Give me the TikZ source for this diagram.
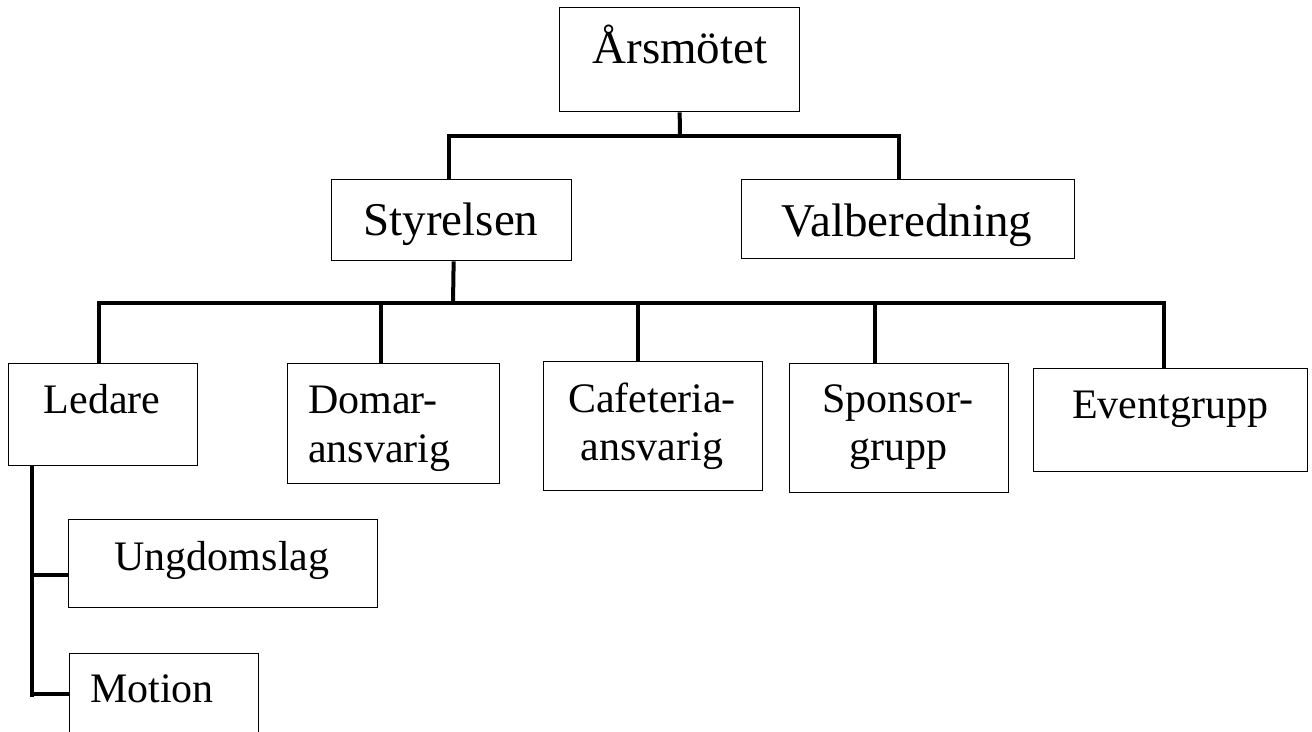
\documentclass[tikz,border=0pt]{standalone}
\usepackage{fontspec}
\setmainfont{Liberation Serif}
\begin{document}
\begin{tikzpicture}[x=1pt,y=-1pt,
  box/.style={draw, line width=1.3pt, inner sep=0pt, anchor=north west},
  conn/.style={line width=4pt},
  big/.style={font=\fontsize{47}{54}\selectfont, anchor=base, inner sep=0pt},
  small/.style={font=\fontsize{42}{48}\selectfont, anchor=base, inner sep=0pt, align=center},
  smallleft/.style={font=\fontsize{42}{48}\selectfont, anchor=base west, inner sep=0pt}]
\useasboundingbox (0,0) rectangle (1312,731);
% boxes
\node[box, minimum width=240pt, minimum height=104pt] (ars) at (559,7) {};
\node[box, minimum width=240pt, minimum height=81pt] (sty) at (331,179) {};
\node[box, minimum width=333pt, minimum height=79pt] (val) at (741,179) {};
\node[box, minimum width=189pt, minimum height=102pt] (led) at (8,363) {};
\node[box, minimum width=212pt, minimum height=120pt] (dom) at (287,363) {};
\node[box, minimum width=219pt, minimum height=129pt] (caf) at (543,361) {};
\node[box, minimum width=219pt, minimum height=129pt] (spo) at (789,363) {};
\node[box, minimum width=274pt, minimum height=103pt] (evt) at (1033,368) {};
\node[box, minimum width=309pt, minimum height=88pt] (ung) at (68,519) {};
\node[box, minimum width=189pt, minimum height=110pt] (mot) at (69,653) {};
% texts
\node[big] (tars) at (680,63) {Årsmötet};
\node[big] (tsty) at (451,235) {Styrelsen};
\node[big] (tval) at (907,236) {Valberedning};
\node[small] (tled) at (102,413) {Ledare};
\node[smallleft] (tdom1) at (308,413) {Domar-};
\node[smallleft] (tdom2) at (308,462) {ansvarig};
\node[small] (tcaf1) at (652,412) {Cafeteria-};
\node[small] (tcaf2) at (652,460) {ansvarig};
\node[small] (tspo1) at (898,412) {Sponsor-};
\node[small] (tspo2) at (898,460) {grupp};
\node[small] (tevt) at (1170,418) {Eventgrupp};
\node[small] (tung) at (222,570) {Ungdomslag};
\node[smallleft] (tmot) at (90,702) {Motion};
% connectors level 1
\coordinate (j1) at (680,136);
\draw[conn] (ars.south) -- (j1);
\draw[conn] ([xshift=-3pt]sty.north) |- (j1) -| ([xshift=-9.5pt]val.north);
% connectors level 2
\coordinate (j2) at (453,303);
\draw[conn] ([xshift=2pt]sty.south) -- (j2);
\draw[conn] ([xshift=-4.5pt]led.north) |- (j2) -| ([xshift=-7pt]evt.north);
\coordinate (d1) at ([xshift=-13pt]dom.north);
\coordinate (c1) at ([xshift=-15.5pt]caf.north);
\coordinate (s1) at ([xshift=-24.5pt]spo.north);
\draw[conn] (d1) -- (d1 |- j2);
\draw[conn] (c1) -- (c1 |- j2);
\draw[conn] (s1) -- (s1 |- j2);
% Ledare sub-branch
\coordinate (l1) at ([xshift=24pt]led.south west);
\coordinate (u1) at ([yshift=-11pt]ung.west);
\coordinate (m1) at ([yshift=-41pt]mot.north west);
\coordinate (lend) at ([yshift=-3pt]l1 |- m1);
\draw[conn] (l1) -- (lend);
\draw[conn] (u1) -- (u1 -| l1);
\draw[conn] (m1) -- (m1 -| l1);
\end{tikzpicture}
\end{document}
